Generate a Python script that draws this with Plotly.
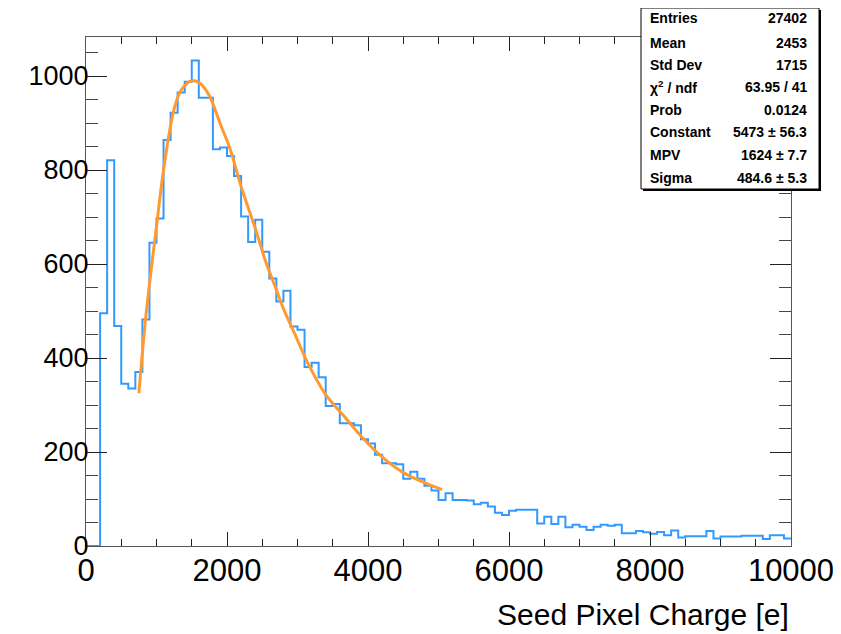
import plotly.graph_objects as go

# ---- data ----
bin_width = 100
bin_lo = list(range(0, 10000, 100))
counts = [
    0, 0, 495, 821, 468, 345, 335, 370, 482, 645,
    697, 864, 922, 965, 988, 1033, 954, 954, 844, 848,
    830, 787, 701, 647, 694, 626, 569, 520, 543, 467,
    460, 381, 390, 359, 298, 302, 261, 261, 257, 227,
    218, 194, 176, 176, 174, 143, 158, 143, 128, 118,
    98, 112, 98, 98, 97, 89, 92, 84, 71, 66,
    75, 77, 77, 77, 48, 62, 47, 62, 40, 45,
    41, 34, 41, 45, 43, 45, 27, 27, 32, 29,
    26, 30, 23, 33, 18, 21, 21, 21, 32, 16,
    20, 20, 20, 22, 22, 22, 15, 23, 23, 16,
]

fit_x = [750, 850, 1000, 1100, 1250, 1350, 1500, 1620, 1750, 1900, 2050, 2200,
         2400, 2550, 2700, 2800, 2950, 3150, 3400, 3650, 3900, 4150, 4400,
         4600, 4800, 5050]
fit_y = [325, 490, 680, 800, 930, 970, 990, 984, 958, 900, 842, 765,
         676, 605, 545, 505, 455, 388, 322, 278, 234, 196, 166,
         148, 135, 120]

x_tickvals = [0, 2000, 4000, 6000, 8000, 10000]
x_ticktext = ["0", "2000", "4000", "6000", "8000", "10000"]
y_tickvals = [0, 200, 400, 600, 800, 1000]

stat_labels = ["Entries", "Mean", "Std Dev", "χ<sup>2</sup> / ndf", "Prob",
               "Constant", "MPV", "Sigma"]
stat_values = ["27402", "2453", "1715", "63.95 / 41", "0.0124",
               "5473 ± 56.3", "1624 ± 7.7", "484.6 ± 5.3"]

x_title = "Seed Pixel Charge [e]"

# ---- build step outline ----
step_x = [bin_lo[0]] + bin_lo + [bin_lo[-1] + bin_width]
step_y = [0] + counts + [counts[-1]]

fig = go.Figure()
fig.add_trace(go.Scatter(
    x=step_x, y=step_y, mode="lines", line_shape="hv",
    line=dict(color="#3399ff", width=2), hoverinfo="skip", showlegend=False))
fig.add_trace(go.Scatter(
    x=fit_x, y=fit_y, mode="lines", line_shape="spline",
    line=dict(color="#ff9a33", width=3), hoverinfo="skip", showlegend=False))

FONT = "Liberation Sans, Arial, Helvetica, sans-serif"

# page body has an 8px margin, so the margins are reduced by 8px
fig.update_layout(
    width=841, height=634,
    margin=dict(l=78, r=58, t=29, b=96),
    plot_bgcolor="white", paper_bgcolor="white",
    font=dict(family=FONT, color="black"),
    xaxis=dict(range=[0, 10000], tickvals=x_tickvals, ticktext=x_ticktext,
               ticks="inside", ticklen=14, tickwidth=1, tickcolor="#222",
               minor=dict(dtick=500, ticks="inside", ticklen=7, tickcolor="#222"),
               showgrid=False, zeroline=False, showline=True, linecolor="#555",
               linewidth=1, mirror="ticks", tickfont=dict(size=31, family=FONT),
               ticklabelstandoff=-3),
    yaxis=dict(range=[0, 1083], tickvals=y_tickvals,
               ticks="inside", ticklen=21, tickwidth=1, tickcolor="#222",
               minor=dict(dtick=50, ticks="inside", ticklen=12, tickcolor="#444"),
               showgrid=False, zeroline=False, showline=True, linecolor="#555",
               linewidth=1, mirror="ticks", tickfont=dict(size=27, family=FONT),
               ticklabelstandoff=-9),
)

# stat box (paper coords relative to plot area: x0->86px, x1->791px; y0->546px, y1->37px)
def px_x(p):
    return (p - 86) / 705.0

def px_y(p):
    return (546 - p) / 509.0

bx0, bx1, by0, by1 = 641, 819, 8, 189
fig.add_shape(type="rect", xref="paper", yref="paper",
              x0=px_x(bx0 + 2), x1=px_x(bx1 + 2), y0=px_y(by1 + 2), y1=px_y(by0 + 2),
              line=dict(width=0), fillcolor="black", layer="above")
fig.add_shape(type="rect", xref="paper", yref="paper",
              x0=px_x(bx0), x1=px_x(bx1), y0=px_y(by1), y1=px_y(by0),
              line=dict(width=1, color="black"), fillcolor="white", layer="above")

row_y = [18, 43, 65, 87, 110, 132, 155, 178]
for lab, val, yy in zip(stat_labels, stat_values, row_y):
    fig.add_annotation(xref="paper", yref="paper", x=px_x(648), y=px_y(yy),
                       xanchor="left", yanchor="middle", showarrow=False,
                       text=lab, font=dict(size=14, family=FONT, weight="bold"))
    fig.add_annotation(xref="paper", yref="paper", x=px_x(809), y=px_y(yy),
                       xanchor="right", yanchor="middle", showarrow=False,
                       text=val, font=dict(size=14, family=FONT, weight="bold"))

fig.add_annotation(xref="paper", yref="paper", x=1.0, y=px_y(614),
                   xanchor="right", yanchor="middle", showarrow=False,
                   text=x_title, font=dict(size=30, family=FONT))

fig.write_html("out.html")
